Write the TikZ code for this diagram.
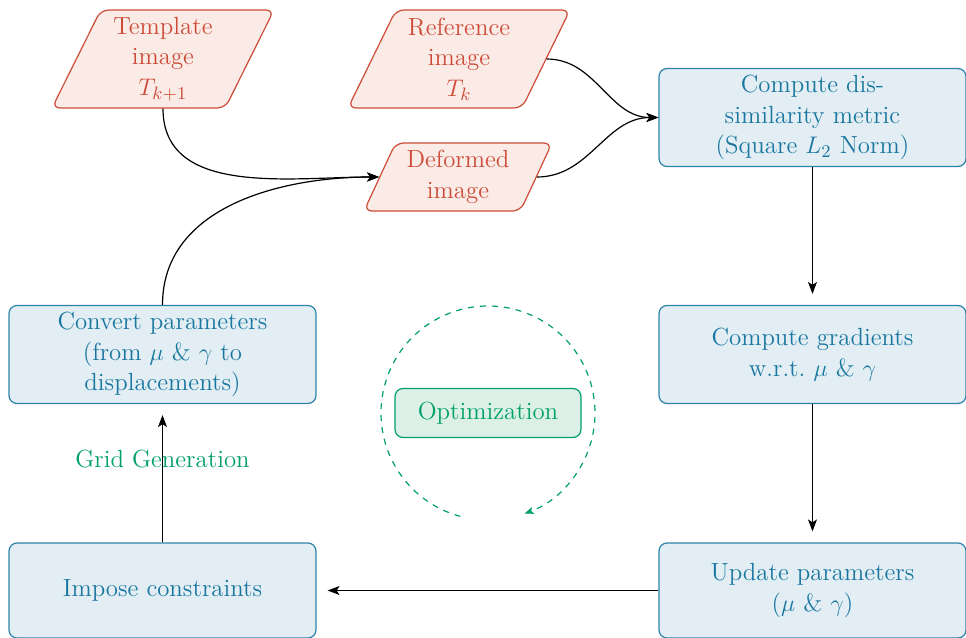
\documentclass[tikz,border=0pt]{standalone}
\usetikzlibrary{shapes.geometric,arrows.meta}
\definecolor{bblue}{RGB}{25,118,160}
\definecolor{bborder}{RGB}{45,130,170}
\definecolor{bfill}{RGB}{226,238,243}
\definecolor{rred}{RGB}{205,75,55}
\definecolor{rfill}{RGB}{251,235,231}
\definecolor{ggreen}{RGB}{0,160,105}
\definecolor{gfill}{RGB}{220,240,232}
\begin{document}
\begin{tikzpicture}[x=0.5pt,y=-0.5pt,
  every node/.style={font=\fontsize{12.4}{15.2}\selectfont},
  procbox/.style={draw=bborder, fill=bfill, text=bblue, rounded corners=4pt,
    minimum width=153.5pt, minimum height=49pt, align=center, line width=0.6pt, inner sep=2pt},
  iobox/.style={trapezium, trapezium left angle=61, trapezium right angle=119,
    trapezium stretches body, draw=rred, fill=rfill, text=rred, rounded corners=4pt,
    align=center, line width=0.6pt, inner sep=1pt},
  optbox/.style={draw=ggreen, fill=gfill, text=ggreen, rounded corners=4pt,
    minimum width=93pt, minimum height=24.5pt, line width=0.6pt},
  conn/.style={line width=0.6pt, -{Stealth[length=6pt,width=4.5pt,inset=1.5pt]}},
  gap/.style={shorten >=5.5pt}
]
\useasboundingbox (0,0) rectangle (966,638);

\node[iobox, minimum width=111pt, minimum height=49pt] (tmpl) at (163,59) {Template\\image\\$T_{k+1}$};
\node[iobox, minimum width=111pt, minimum height=49pt] (ref) at (459,59) {Reference\\image\\$T_k$};
\node[iobox, minimum width=94pt, minimum height=34pt] (def) at (458,177) {Deformed\\image};

\node[procbox] (dis) at (812.5,117.5) {Compute dis-\\similarity metric\\(Square $L_2$ Norm)};
\node[procbox] (grad) at (812.5,354.5) {Compute gradients\\w.r.t.\ $\mu$ \& $\gamma$};
\node[procbox, minimum height=47.5pt] (upd) at (812.5,590.5) {Update parameters\\($\mu$ \& $\gamma$)};
\node[procbox, minimum height=47.5pt] (imp) at (162.5,590.5) {Impose constraints};
\node[procbox] (conv) at (162.5,354.5) {Convert parameters\\(from $\mu$ \& $\gamma$ to\\displacements)};

\node[optbox] (opt) at (488,413) {Optimization};
\node[text=ggreen] (grid) at (162.5,459) {Grid Generation};

\draw[ggreen, dashed, line width=0.6pt, -{Stealth[length=4.5pt,width=3.5pt,inset=1pt]}]
  (opt.center) ++(105:107) arc[start angle=105, end angle=430, radius=107];

\draw[conn] (tmpl.south) to[out=-90,in=180] (def.west);
\draw[conn] (conv.north) to[out=90,in=180] (def.west);
\draw[conn] (ref.east) to[out=0,in=180] (dis.west);
\draw[conn] (def.east) to[out=0,in=180] (dis.west);
\draw[conn, gap] (dis.south) -- (grad.north);
\draw[conn, gap] (grad.south) -- (upd.north);
\draw[conn, gap] (upd.west) -- (imp.east);
\draw[conn, gap] (imp.north) -- (conv.south);
\end{tikzpicture}
\end{document}
